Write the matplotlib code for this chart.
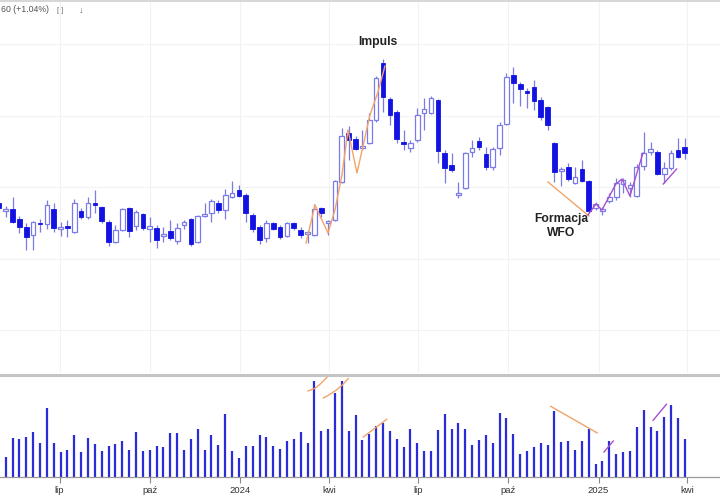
import datetime as dt
import matplotlib
matplotlib.use("Agg")
import matplotlib.pyplot as plt
from matplotlib.patches import Rectangle
from matplotlib.lines import Line2D
import numpy as np

plt.rcParams['font.family'] = ['Liberation Sans', 'DejaVu Sans']

# ---------------- data (weekly bars, arbitrary price units) ----------------
start_date = dt.date(2023, 4, 30)   # date of bar 0, one bar per week

opens = [169, 161, 163, 153, 145, 137, 149, 148, 163, 143, 146, 140, 161, 155, 169, 165, 150, 130, 142, 164,
         146, 158, 143, 144, 136, 141, 131, 147, 153, 130, 156, 159, 169, 162, 175, 182, 177, 157, 145, 134,
         149, 145, 136, 149, 142, 138, 137, 164, 149, 152, 190, 239, 233, 224, 229, 252, 309, 273, 260, 230,
         224, 232, 259, 259, 272, 219, 207, 177, 184, 220, 231, 218, 205, 224, 248, 297, 288, 281, 285, 272,
         265, 229, 201, 205, 189, 203, 191, 164, 161, 171, 175, 188, 184, 176, 206, 220, 220, 198, 204, 222,
         225]
highs = [174, 166, 175, 156, 149, 151, 153, 172, 169, 150, 152, 173, 164, 175, 182, 166, 152, 147, 164, 165,
         162, 159, 155, 147, 145, 152, 149, 152, 154, 157, 169, 173, 172, 183, 191, 187, 179, 159, 147, 152,
         150, 147, 150, 150, 145, 142, 168, 165, 152, 192, 244, 246, 236, 242, 259, 296, 313, 275, 262, 242,
         232, 264, 274, 276, 273, 222, 219, 190, 220, 232, 235, 225, 225, 250, 299, 305, 290, 284, 292, 275,
         266, 230, 205, 209, 205, 212, 192, 170, 165, 179, 194, 194, 190, 208, 240, 230, 222, 210, 222, 234,
         234]
lows = [161, 155, 149, 139, 122, 122, 140, 143, 140, 136, 135, 139, 153, 153, 159, 149, 126, 129, 141, 135,
        142, 142, 130, 124, 130, 132, 128, 143, 126, 129, 155, 150, 159, 153, 174, 175, 150, 140, 128, 130,
        142, 133, 135, 142, 134, 129, 136, 155, 137, 151, 189, 212, 222, 222, 228, 250, 260, 247, 229, 222,
        220, 230, 242, 258, 209, 189, 200, 174, 183, 215, 222, 202, 202, 217, 247, 269, 266, 264, 262, 252,
        242, 190, 186, 191, 188, 190, 159, 162, 157, 169, 172, 179, 175, 175, 202, 217, 197, 189, 202, 214,
        213]
closes = [164, 163, 150, 145, 135, 150, 148, 167, 144, 145, 144, 169, 155, 169, 167, 151, 130, 142, 163, 141,
          160, 144, 146, 132, 138, 134, 144, 150, 128, 156, 158, 171, 162, 177, 179, 176, 159, 143, 132, 149,
          143, 135, 149, 144, 137, 140, 163, 159, 151, 191, 236, 232, 223, 226, 252, 294, 275, 257, 233, 228,
          229, 257, 263, 274, 221, 204, 202, 179, 219, 224, 225, 205, 223, 247, 295, 289, 283, 279, 271, 255,
          247, 200, 203, 193, 195, 191, 161, 168, 163, 175, 189, 192, 187, 205, 219, 223, 198, 204, 219, 215,
          219]
volumes = [40, 20, 39, 38, 40, 44.7, 34, 69, 34, 24.7, 27.3, 42.3, 24.7, 39, 33, 25.7, 31, 33, 35.7, 27.3,
           45.3, 25.7, 26.7, 31.3, 30, 44, 44.3, 27.3, 38.3, 48, 27, 42, 32.3, 63.3, 26.3, 19, 31, 31.3, 41.7, 40.3,
           31.3, 27.7, 36, 38, 45.3, 34.3, 96, 46, 48, 84.3, 96.3, 45.7, 61.7, 36.7, 43, 51.3, 54, 46, 37.7, 30,
           48, 34.3, 26, 26, 46.7, 62.7, 48.3, 54, 48.3, 31.7, 36.7, 41.7, 34.3, 63.7, 58.7, 42.7, 23.3, 26, 30.3, 34,
           32.3, 66.3, 34.7, 36, 27.3, 35.7, 47.7, 12.7, 16, 36, 23.3, 25.3, 26.3, 50.3, 67.3, 50.3, 45.7, 59.7, 71.7,
           59.3, 38.3]

tick_dates = [dt.date(2023, 7, 1), dt.date(2023, 10, 1), dt.date(2024, 1, 1), dt.date(2024, 4, 1),
              dt.date(2024, 7, 1), dt.date(2024, 10, 1), dt.date(2025, 1, 1), dt.date(2025, 4, 1)]
tick_labels = ["lip", "paź", "2024", "kwi", "lip", "paź", "2025", "kwi"]

# annotation polylines (bar index, price) and (bar index, volume)
impulse_x = [44.78, 46.09, 47.98, 49.0, 50.02, 50.9, 52.21, 54.1, 55.27, 56.29]
impulse_y = [129, 167, 139, 162, 197, 242, 199, 257, 280, 306]
wfo_x = [80.05, 86.03]
wfo_y = [190, 156]
rise_x = [85.88, 87.05, 87.92, 88.94, 89.96, 90.84, 92.0, 93.9]
rise_y = [157, 168, 162, 175, 188, 193, 176, 219]
end_x = [96.86, 98.81]
end_y = [188, 203]

vol_orange = [([45.07, 46.09, 46.82, 48.42], [86, 88.7, 92.7, 103.7]),
              ([47.3, 48.27, 49.15, 50.02, 50.94], [79, 82.7, 86.7, 91.7, 98.4]),
              ([53.13, 56.54], [40, 57.7]),
              ([80.45, 87.24], [70.7, 44])]
vol_purple = [([88.22, 89.57], [25, 36]),
              ([95.38, 97.32], [56.7, 72.7])]

# ---------------- figure ----------------
W, H = 720, 500
fig = plt.figure(figsize=(W / 100, H / 100), dpi=100)
ax = fig.add_axes([0, 1 - 372 / H, 1, 372 / H])
axv = fig.add_axes([0, 1 - 477 / H, 1, 102 / H])

idx = np.arange(len(opens))
xlim = (0.169, 105.13)
tick_pos = [(d - start_date).days / 7 for d in tick_dates]

FILL = '#1212e2'
EDGE = '#7a7ae8'
WICK = '#7c7ce0'
bw = 0.68

for i in idx:
    o, h, l, c = opens[i], highs[i], lows[i], closes[i]
    ax.vlines(i, l, h, color=WICK, lw=0.9, zorder=2)
    bottom = min(o, c)
    height = max(abs(c - o), 1.2)
    if c >= o:
        ax.add_patch(Rectangle((i - bw / 2, bottom), bw, height, facecolor='white',
                               edgecolor=EDGE, lw=0.9, zorder=3))
    else:
        ax.add_patch(Rectangle((i - bw / 2, bottom), bw, height, facecolor=FILL,
                               edgecolor=FILL, lw=0.6, zorder=3))

ORANGE = '#f2a468'
PURPLE = '#a94fd0'
ax.plot(impulse_x, impulse_y, color=ORANGE, lw=1.0, zorder=4)
ax.plot(wfo_x, wfo_y, color=ORANGE, lw=1.0, zorder=4)
ax.plot(rise_x, rise_y, color=PURPLE, lw=1.0, zorder=4)
ax.plot(end_x, end_y, color=PURPLE, lw=1.0, zorder=4)

ax.text(55.27, 330, "Impuls", ha='center', va='center', fontsize=8.7,
        fontweight='bold', color='#222222')
ax.text(82.0, 146, "Formacja\nWFO", ha='center', va='center', fontsize=8.7,
        fontweight='bold', color='#222222', linespacing=1.15)

ax.set_xlim(*xlim)
ax.set_ylim(0, 372)
ax.set_xticks(tick_pos)
ax.set_yticks([42, 113.5, 185, 256.5, 328])
ax.grid(True, color='#f2f2f5', lw=0.8)
ax.tick_params(length=0, labelbottom=False, labelleft=False)
for s in ax.spines.values():
    s.set_visible(False)

# volume
axv.vlines(idx, 0, volumes, color='#2b2bd8', lw=1.6)
for xs, ys in vol_orange:
    axv.plot(xs, ys, color=ORANGE, lw=1.0)
for xs, ys in vol_purple:
    axv.plot(xs, ys, color=PURPLE, lw=1.0)
axv.set_xlim(*xlim)
axv.set_ylim(0, 102)
axv.set_yticks([])
axv.set_xticks(tick_pos)
axv.set_xticklabels(tick_labels)
axv.tick_params(axis='x', length=4, color='#888888', labelsize=6.8, labelcolor='#333333', pad=2.5)
for k in ('left', 'right'):
    axv.spines[k].set_visible(False)
axv.spines['bottom'].set_color('#999999')
axv.spines['bottom'].set_linewidth(0.9)
axv.spines['top'].set_color('#c4c4c4')
axv.spines['top'].set_linewidth(2.2)

# header
fig.text(0.001, 1 - 10 / H, "60 (+1.04%)", fontsize=6.3, color='#555555', va='center', ha='left')
fig.text(60 / W, 1 - 10 / H, "[ ]", fontsize=5.5, color='#777777', va='center', ha='center')
fig.text(81 / W, 1 - 10 / H, "↓", fontsize=6.5, color='#666666', va='center', ha='center')
fig.add_artist(Line2D([0, 1], [1 - 0.6 / H, 1 - 0.6 / H], color='#d0d0d0', lw=1.2))

fig.savefig("out.png", dpi=100)
